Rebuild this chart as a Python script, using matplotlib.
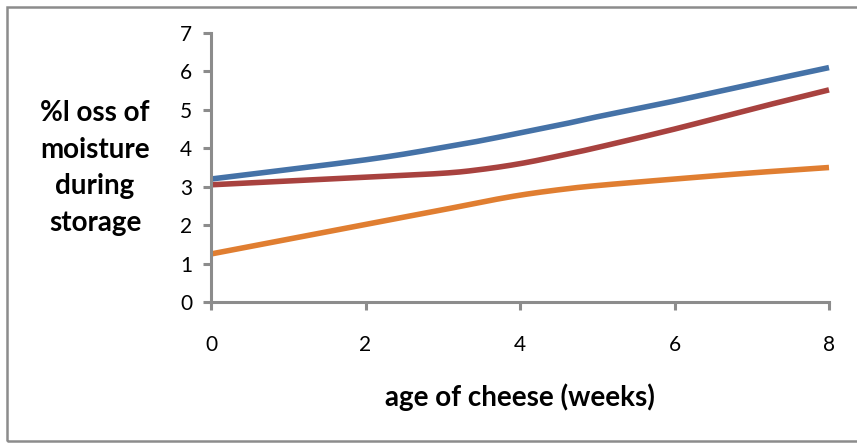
import matplotlib
matplotlib.use("Agg")
import matplotlib.pyplot as plt
import numpy as np
from matplotlib.patches import Rectangle

plt.rcParams['font.family'] = ['Lato', 'DejaVu Sans']

# storage time (weeks) and moisture loss (%) for three cheeses
weeks = [0, 2, 3, 3.5, 4, 4.5, 5, 6, 7, 8]
loss_blue = [3.2, 3.7, 4.02, 4.2, 4.4, 4.6, 4.82, 5.23, 5.67, 6.1]
loss_red = [3.05, 3.25, 3.35, 3.45, 3.6, 3.8, 4.02, 4.5, 5.02, 5.52]
loss_orange = [1.25, 2.02, 2.4, 2.6, 2.78, 2.92, 3.03, 3.2, 3.36, 3.5]
x_ticks = [0, 2, 4, 6, 8]
y_ticks = [0, 1, 2, 3, 4, 5, 6, 7]

colors = ['#4572A7', '#A8423F', '#E07E31']
axis_grey = '#8C8C8C'


def smooth(x, y):
    """Catmull-Rom style smoothing through the data points."""
    x = np.asarray(x, float)
    y = np.asarray(y, float)
    px = np.concatenate([[2 * x[0] - x[1]], x, [2 * x[-1] - x[-2]]])
    py = np.concatenate([[2 * y[0] - y[1]], y, [2 * y[-1] - y[-2]]])
    xs, ys = [], []
    for i in range(1, len(px) - 2):
        t = np.linspace(0, 1, 30, endpoint=False)
        p0, p1, p2, p3 = [np.array([px[j], py[j]]) for j in range(i - 1, i + 3)]
        t2, t3 = t * t, t * t * t
        pts = 0.5 * ((2 * p1)[:, None] + (-p0 + p2)[:, None] * t
                     + (2 * p0 - 5 * p1 + 4 * p2 - p3)[:, None] * t2
                     + (-p0 + 3 * p1 - 3 * p2 + p3)[:, None] * t3)
        xs.extend(pts[0])
        ys.extend(pts[1])
    xs.append(x[-1])
    ys.append(y[-1])
    return np.array(xs), np.array(ys)


fig = plt.figure(figsize=(8.57, 4.43), dpi=100)
ax = fig.add_axes([211 / 857, 1 - 302 / 443, 618 / 857, 269 / 443])

for series, c in zip([loss_blue, loss_red, loss_orange], colors):
    sx, sy = smooth(weeks, series)
    ax.plot(sx, sy, color=c, lw=4.0, solid_capstyle='butt', clip_on=False)

ax.set_xlim(0, 8)
ax.set_ylim(0, 7)
ax.set_xticks(x_ticks)
ax.set_yticks(y_ticks)
ax.set_xticklabels([str(v) for v in x_ticks])
ax.set_yticklabels([str(v) for v in y_ticks])

for side in ['top', 'right']:
    ax.spines[side].set_visible(False)
for side in ['left', 'bottom']:
    ax.spines[side].set_color(axis_grey)
    ax.spines[side].set_linewidth(2.2)

ax.tick_params(axis='y', direction='out', length=5.5, width=2.2, color=axis_grey,
               labelsize=15, pad=8, labelcolor='#000000')
ax.tick_params(axis='x', direction='out', length=5.5, width=2.2, color=axis_grey,
               labelsize=15, pad=18, labelcolor='#000000')

fig.text(95 / 857, 1 - 168 / 443, "%l oss of\nmoisture\nduring\nstorage",
         ha='center', va='center', fontsize=20, fontweight='bold',
         linespacing=1.5)
fig.text(520 / 857, 1 - 397 / 443, "age of cheese (weeks)",
         ha='center', va='center', fontsize=20, fontweight='bold')

# chart area border
fig.patches.append(Rectangle((7 / 857, 2 / 443), 860 / 857, 434 / 443,
                             transform=fig.transFigure, fill=False,
                             edgecolor='#8C8C8C', lw=1.8))

fig.savefig('out.png', dpi=100)
